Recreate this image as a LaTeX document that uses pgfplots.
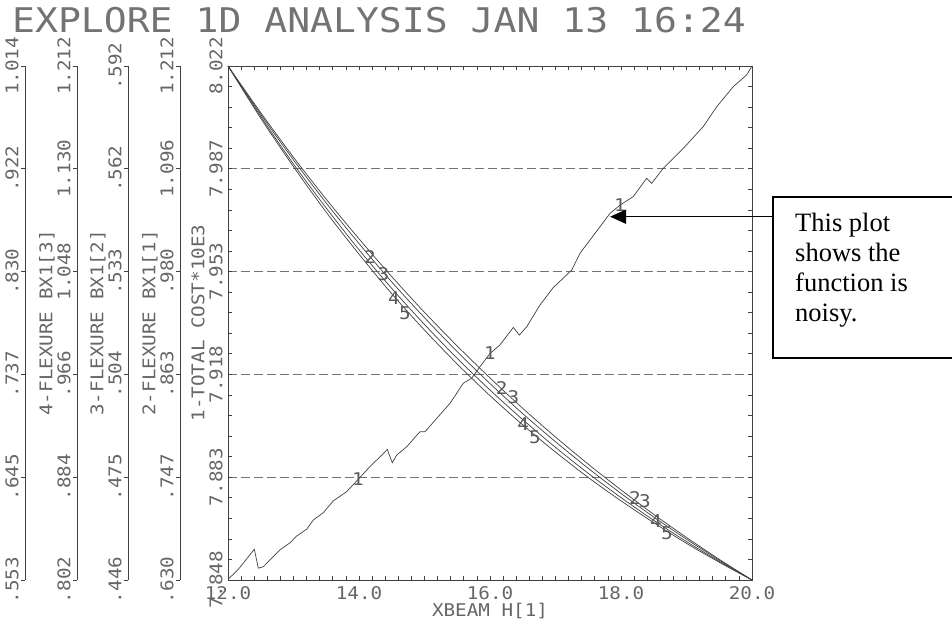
\documentclass[border=0pt]{standalone}
\usepackage{fontspec}
\usepackage{pgfplots}
\pgfplotsset{compat=1.18}
\usetikzlibrary{arrows.meta}
\newfontfamily\labf[FakeStretch=1.1]{DejaVu Sans Mono}
\newfontfamily\ttlf[FakeStretch=1.12]{DejaVu Sans Mono}
\newfontfamily\tnr{Liberation Serif}
\newcommand\lab{\labf\fontsize{17.5}{20}\selectfont}
\colorlet{txt}{black!60}
\colorlet{lin}{black!75}
\pgfplotsset{paraxis/.style={
  anchor=south west, scale only axis, width=1pt, height=514pt,
  xmin=0, xmax=1, ymin=0, ymax=5,
  axis x line=none, axis y line=left,
  y axis line style={-, black!75, line width=0.8pt},
  ytick={0,1,2,3,4,5}, minor ytick={}, tick align=outside, major tick length=4pt,
  every tick/.style={black!75, line width=0.8pt},
  yticklabel style={font=\lab, text=txt, xshift=-9pt, rotate=90, anchor=center},
  ylabel style={font=\lab, text=txt, at={([xshift=-30pt]axis description cs:0,0.5)}, anchor=center},
  clip=false,
}}
\begin{document}
\begin{tikzpicture}
\useasboundingbox (0pt,0pt) rectangle (952pt,620pt);
\node[anchor=base west, text=black!55, inner sep=0pt] at (12pt,587pt)
  {\ttlf\fontsize{34}{40}\selectfont EXPLORE 1D ANALYSIS JAN 13 16:24};

\begin{axis}[paraxis, at={(25pt,40pt)},
  yticklabels={.553,.645,.737,.830,.922,1.014}]
\end{axis}
\begin{axis}[paraxis, at={(77pt,40pt)},
  yticklabels={.802,.884,.966,1.048,1.130,1.212}, ylabel={4-FLEXURE BX1[3]}]
\end{axis}
\begin{axis}[paraxis, at={(128pt,40pt)},
  yticklabels={.446,.475,.504,.533,.562,.592}, ylabel={3-FLEXURE BX1[2]}]
\end{axis}
\begin{axis}[paraxis, at={(180pt,40pt)},
  yticklabels={.630,.747,.863,.980,1.096,1.212}, ylabel={2-FLEXURE BX1[1]}]
\end{axis}

\begin{axis}[
  at={(228pt,40pt)}, anchor=south west, scale only axis, width=524pt, height=514pt,
  xmin=12, xmax=20, ymin=7.848, ymax=8.022,
  scaled ticks=false,
  xtick={14,16,18,20}, xticklabels={14.0,16.0,18.0,20.0},
  extra x ticks={12}, extra x tick labels={12.0},
  extra x tick style={tick label style={anchor=north west}},
  minor xtick={12,12.2,...,20},
  ytick={7.848,7.8828,7.9176,7.9524,7.9872,8.022},
  yticklabels={7.848,7.883,7.918,7.953,7.987,8.022},
  minor ytick={7.848,7.85496,...,8.022},
  tick align=inside, major tick length=4pt, minor tick length=4pt,
  axis line style={black!75, line width=0.8pt},
  every tick/.style={black!75, line width=0.7pt},
  ymajorgrids, major grid style={black!55, line width=0.8pt, dash pattern=on 9pt off 4pt},
  xticklabel style={font=\lab, text=txt, anchor=north, yshift=-3pt},
  yticklabel style={font=\lab, text=txt, xshift=-12pt, rotate=90, anchor=center},
  xlabel={XBEAM H[1]},
  xlabel style={font=\lab, text=txt, at={([yshift=-37pt]axis description cs:0.5,0)}, anchor=base},
  ylabel={1-TOTAL COST*10E3},
  ylabel style={font=\lab, text=txt, at={([xshift=-30pt]axis description cs:0,0.5)}, anchor=center},
  clip=false,
]
% 1 - total cost (noisy)
\addplot[lin, line width=0.7pt] coordinates {
(12.000,7.8482) (12.157,7.8516) (12.402,7.8584) (12.463,7.8520) (12.539,7.8525)
(12.794,7.8582) (12.947,7.8606) (13.049,7.8629) (13.202,7.8652) (13.302,7.8683)
(13.455,7.8708) (13.608,7.8748) (13.812,7.8779) (13.989,7.8821) (14.168,7.8864)
(14.321,7.8897) (14.432,7.8922) (14.508,7.8877) (14.576,7.8903) (14.728,7.8931)
(14.931,7.8982) (15.008,7.8982) (15.186,7.9027) (15.389,7.9078) (15.592,7.9146)
(15.721,7.9163) (15.847,7.9202) (16.000,7.9247) (16.153,7.9276) (16.356,7.9335)
(16.447,7.9309) (16.560,7.9337) (16.763,7.9411) (16.962,7.9469) (17.247,7.9529)
(17.374,7.9586) (17.527,7.9631) (17.832,7.9721) (17.985,7.9749) (18.188,7.9778)
(18.392,7.9840) (18.469,7.9823) (18.646,7.9874) (18.951,7.9941) (19.256,8.0015)
(19.461,8.0082) (19.714,8.0150) (19.919,8.0190) (20.000,8.0220)};
% 2
\addplot[lin, line width=0.7pt, smooth] coordinates {
(12,8.0220) (12.5,8.0062) (13,7.9911) (13.5,7.9769) (14,7.9635) (14.5,7.9507)
(15,7.9386) (15.5,7.9272) (16,7.9164) (16.5,7.9061) (17,7.8964) (17.5,7.8872)
(18,7.8785) (18.5,7.8702) (19,7.8624) (19.5,7.8550) (20,7.8480)};
% 3
\addplot[lin, line width=0.7pt, smooth] coordinates {
(12,8.0220) (12.5,8.0056) (13,7.9902) (13.5,7.9756) (14,7.9619) (14.5,7.9489)
(15,7.9368) (15.5,7.9253) (16,7.9145) (16.5,7.9043) (17,7.8948) (17.5,7.8858)
(18,7.8773) (18.5,7.8693) (19,7.8618) (19.5,7.8547) (20,7.8480)};
% 4
\addplot[lin, line width=0.7pt, smooth] coordinates {
(12,8.0220) (12.5,8.0049) (13,7.9888) (13.5,7.9739) (14,7.9598) (14.5,7.9467)
(15,7.9345) (15.5,7.9230) (16,7.9123) (16.5,7.9023) (17,7.8929) (17.5,7.8841)
(18,7.8759) (18.5,7.8682) (19,7.8610) (19.5,7.8543) (20,7.8480)};
% 5
\addplot[lin, line width=0.7pt, smooth] coordinates {
(12,8.0220) (12.5,8.0043) (13,7.9879) (13.5,7.9725) (14,7.9583) (14.5,7.9449)
(15,7.9326) (15.5,7.9211) (16,7.9104) (16.5,7.9005) (17,7.8913) (17.5,7.8827)
(18,7.8748) (18.5,7.8674) (19,7.8604) (19.5,7.8540) (20,7.8480)};
% curve number marks
\addplot[black!65, only marks, mark=text, text mark={1}, text mark as node=true,
  text mark style={font=\lab}] coordinates {(13.985,7.8822) (16.0,7.9248) (17.985,7.9749)};
\addplot[black!65, only marks, mark=text, text mark={2}, text mark as node=true,
  text mark style={font=\lab}] coordinates {(14.168,7.9573) (16.179,7.9130) (18.214,7.8758)};
\addplot[black!65, only marks, mark=text, text mark={3}, text mark as node=true,
  text mark style={font=\lab}] coordinates {(14.371,7.9516) (16.356,7.9099) (18.366,7.8747)};
\addplot[black!65, only marks, mark=text, text mark={4}, text mark as node=true,
  text mark style={font=\lab}] coordinates {(14.534,7.9435) (16.508,7.9008) (18.534,7.8680)};
\addplot[black!65, only marks, mark=text, text mark={5}, text mark as node=true,
  text mark style={font=\lab}] coordinates {(14.702,7.9384) (16.687,7.8964) (18.702,7.8637)};
\end{axis}

% annotation
\draw[line width=1.6pt] (773pt,262pt) rectangle (960pt,423pt);
\draw[line width=1.5pt, -{Triangle[length=16pt,width=14pt]}] (773pt,403.3pt) -- (610pt,403.3pt);
\begin{scope}[every node/.style={anchor=base west, inner sep=0pt, font=\tnr\fontsize{26.5}{30}\selectfont}]
\node at (795pt,388.3pt) {This plot};
\node at (795pt,358.3pt) {shows the};
\node at (795pt,328.3pt) {function is};
\node at (795pt,298.3pt) {noisy.};
\end{scope}
\end{tikzpicture}
\end{document}
